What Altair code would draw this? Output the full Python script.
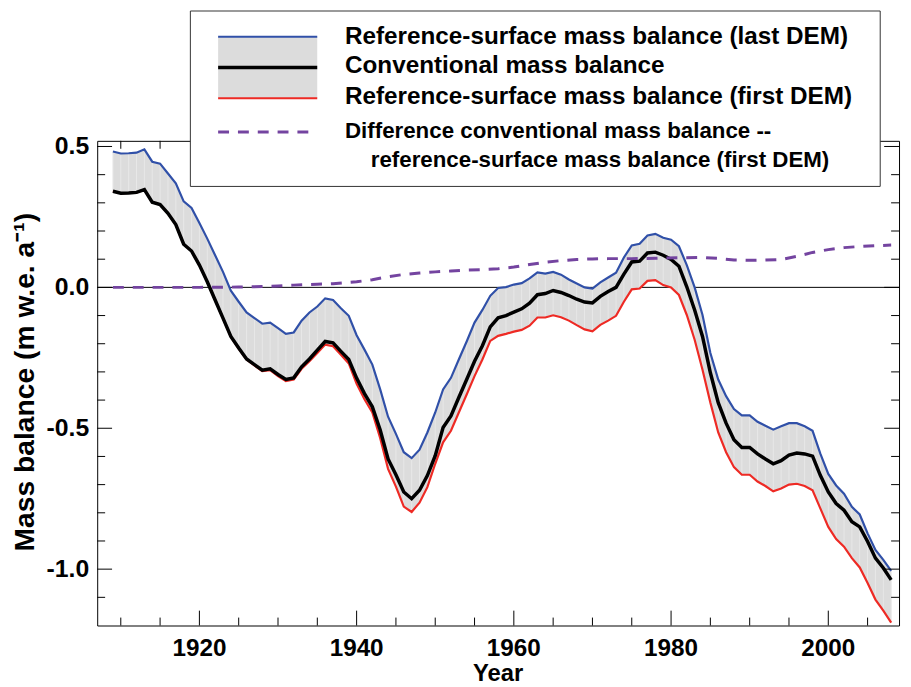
import altair as alt
import pandas as pd

# ---------------- data ----------------
years = list(range(1909, 2009))

ref_last = [0.482, 0.475, 0.476, 0.478, 0.490, 0.446, 0.439, 0.404, 0.369, 0.305,
            0.282, 0.228, 0.173, 0.114, 0.055, -0.012, -0.051, -0.089, -0.109, -0.129,
            -0.125, -0.145, -0.165, -0.160, -0.118, -0.089, -0.068, -0.039, -0.045, -0.074,
            -0.101, -0.170, -0.221, -0.274, -0.362, -0.459, -0.520, -0.585, -0.606, -0.576,
            -0.515, -0.444, -0.362, -0.321, -0.256, -0.192, -0.125, -0.080, -0.030, -0.002,
            0.001, 0.010, 0.015, 0.032, 0.053, 0.049, 0.055, 0.045, 0.028, 0.014,
            0.000, -0.004, 0.018, 0.035, 0.052, 0.106, 0.149, 0.155, 0.184, 0.190,
            0.176, 0.169, 0.146, 0.079, 0.000, -0.098, -0.233, -0.327, -0.386, -0.432,
            -0.454, -0.454, -0.477, -0.491, -0.505, -0.493, -0.482, -0.482, -0.493, -0.509,
            -0.591, -0.662, -0.703, -0.732, -0.779, -0.806, -0.873, -0.932, -0.967, -1.006]

conventional = [0.341, 0.334, 0.335, 0.337, 0.347, 0.302, 0.294, 0.263, 0.223, 0.153,
                0.129, 0.079, 0.020, -0.045, -0.109, -0.174, -0.215, -0.254, -0.274, -0.294,
                -0.289, -0.309, -0.327, -0.321, -0.282, -0.254, -0.223, -0.192, -0.197, -0.227,
                -0.256, -0.322, -0.377, -0.424, -0.506, -0.609, -0.665, -0.726, -0.750, -0.720,
                -0.668, -0.597, -0.497, -0.456, -0.391, -0.327, -0.262, -0.207, -0.140, -0.108,
                -0.100, -0.088, -0.076, -0.056, -0.026, -0.022, -0.011, -0.018, -0.029, -0.042,
                -0.052, -0.055, -0.032, -0.015, 0.000, 0.047, 0.090, 0.093, 0.122, 0.125,
                0.114, 0.099, 0.075, 0.002, -0.080, -0.174, -0.303, -0.409, -0.482, -0.541,
                -0.568, -0.568, -0.591, -0.609, -0.626, -0.615, -0.595, -0.588, -0.591, -0.599,
                -0.668, -0.726, -0.767, -0.791, -0.832, -0.850, -0.902, -0.961, -0.996, -1.038]

ref_first = [0.341, 0.334, 0.335, 0.337, 0.347, 0.302, 0.294, 0.263, 0.223, 0.153,
             0.129, 0.079, 0.020, -0.045, -0.110, -0.175, -0.217, -0.256, -0.277, -0.297,
             -0.294, -0.315, -0.333, -0.327, -0.289, -0.262, -0.233, -0.203, -0.209, -0.239,
             -0.270, -0.342, -0.397, -0.444, -0.535, -0.644, -0.707, -0.778, -0.797, -0.764,
             -0.709, -0.626, -0.550, -0.509, -0.444, -0.380, -0.315, -0.256, -0.190, -0.172,
             -0.165, -0.157, -0.151, -0.136, -0.107, -0.107, -0.099, -0.106, -0.118, -0.134,
             -0.149, -0.156, -0.133, -0.118, -0.101, -0.051, -0.007, -0.004, 0.023, 0.026,
             0.008, 0.000, -0.027, -0.098, -0.186, -0.292, -0.409, -0.515, -0.585, -0.638,
             -0.665, -0.665, -0.689, -0.705, -0.724, -0.714, -0.700, -0.697, -0.705, -0.720,
             -0.785, -0.850, -0.893, -0.920, -0.961, -0.994, -1.049, -1.108, -1.147, -1.190]

diff_years = [1909, 1915, 1920, 1925, 1928, 1930, 1932, 1935, 1937, 1940, 1942, 1944,
              1946, 1948, 1950, 1952, 1954, 1956, 1958, 1960, 1962, 1964, 1966, 1968,
              1970, 1972, 1975, 1978, 1981, 1984, 1986, 1988, 1990, 1992, 1994, 1996,
              1998, 2000, 2002, 2004, 2006, 2008]
diff_values = [0.000, 0.000, 0.000, 0.001, 0.003, 0.005, 0.008, 0.011, 0.013, 0.020, 0.027, 0.038,
               0.046, 0.051, 0.055, 0.058, 0.061, 0.063, 0.066, 0.072, 0.081, 0.089, 0.095, 0.099,
               0.101, 0.102, 0.102, 0.103, 0.105, 0.106, 0.103, 0.097, 0.096, 0.097, 0.099, 0.110,
               0.124, 0.134, 0.141, 0.145, 0.148, 0.150]

legend_labels = ["Reference-surface mass balance (last DEM)",
                 "Conventional mass balance",
                 "Reference-surface mass balance (first DEM)",
                 "Difference conventional mass balance --",
                 "reference-surface mass balance (first DEM)"]

y_major = [-1.0, -0.5, 0.0, 0.5]
y_minor = [-1.1, -0.9, -0.8, -0.7, -0.6, -0.4, -0.3, -0.2, -0.1, 0.1, 0.2, 0.3, 0.4]
x_major = [1920, 1940, 1960, 1980, 2000]
x_minor = [1910, 1915, 1925, 1930, 1935, 1945, 1950, 1955, 1965, 1970, 1975,
           1985, 1990, 1995, 2005]

x_title = "Year"
y_title = "Mass balance (m w.e. a\u207b\u00b9)"

# ---------------- styling ----------------
W, H = 809, 489
FONT = "Liberation Sans"
BLUE = "#3050a8"
RED = "#ee2a24"
PURPLE = "#7444a0"
BAND = "#dcdcdc"

df = pd.DataFrame({"year": years, "last": ref_last, "conv": conventional, "first": ref_first})
ddf = pd.DataFrame({"year": diff_years, "diff": diff_values})

xs = alt.Scale(domain=[1907, 2009], nice=False, zero=False)
ys = alt.Scale(domain=[-1.2, 0.52], nice=False, zero=False)

zero_line = alt.Chart(pd.DataFrame({"v": [0.0]})).mark_rule(color="black", strokeWidth=1).encode(
    y=alt.Y("v:Q", scale=ys, axis=None))

band = alt.Chart(df).mark_area(color=BAND, opacity=1).encode(
    x=alt.X("year:Q", scale=xs, axis=None),
    y=alt.Y("last:Q", scale=ys, axis=None),
    y2="first:Q")

stripes = alt.Chart(df).mark_rule(color="#e8e8e8", strokeWidth=1).encode(
    x=alt.X("year:Q", scale=xs, axis=None),
    y=alt.Y("last:Q", scale=ys, axis=None), y2="first:Q")

def series_line(field, color, width):
    return alt.Chart(df).mark_line(color=color, strokeWidth=width).encode(
        x=alt.X("year:Q", scale=xs, axis=None),
        y=alt.Y(f"{field}:Q", scale=ys, axis=None))

blue_line = series_line("last", BLUE, 2.2)
red_line = series_line("first", RED, 2.2)
black_line = series_line("conv", "black", 3.5)

diff_line = alt.Chart(ddf).mark_line(color=PURPLE, strokeWidth=3, strokeDash=[11, 9]).encode(
    x=alt.X("year:Q", scale=xs, axis=None),
    y=alt.Y("diff:Q", scale=ys, axis=None))

# tick marks (inward, on all four sides)
def yticks(vals, length):
    d = alt.Chart(pd.DataFrame({"v": vals}))
    left = d.mark_rule(color="black", strokeWidth=1).encode(
        y=alt.Y("v:Q", scale=ys, axis=None), x=alt.value(0), x2=alt.value(length))
    right = d.mark_rule(color="black", strokeWidth=1).encode(
        y=alt.Y("v:Q", scale=ys, axis=None), x=alt.value(W - length), x2=alt.value(W))
    return [left, right]

def xticks(vals, length):
    d = alt.Chart(pd.DataFrame({"t": vals}))
    bottom = d.mark_rule(color="black", strokeWidth=1).encode(
        x=alt.X("t:Q", scale=xs, axis=None), y=alt.value(H - length), y2=alt.value(H))
    top = d.mark_rule(color="black", strokeWidth=1).encode(
        x=alt.X("t:Q", scale=xs, axis=None), y=alt.value(0), y2=alt.value(length))
    return [bottom, top]

ticks = yticks(y_major, 15) + yticks(y_minor, 8) + xticks(x_major, 15) + xticks(x_minor, 8)

# tick labels and axis titles
ylab_df = pd.DataFrame({"v": y_major, "lab": [f"{v:.1f}" for v in y_major]})
y_labels = alt.Chart(ylab_df).mark_text(
    align="right", baseline="middle", font=FONT, fontSize=25, fontWeight="bold",
    color="black").encode(
    y=alt.Y("v:Q", scale=ys, axis=None), x=alt.value(-8), text="lab:N")

xlab_df = pd.DataFrame({"t": x_major, "lab": [str(t) for t in x_major]})
x_labels = alt.Chart(xlab_df).mark_text(
    align="center", baseline="alphabetic", font=FONT, fontSize=24.5, fontWeight="bold",
    color="black").encode(
    x=alt.X("t:Q", scale=xs, axis=None), y=alt.value(H + 31), text="lab:N")

one = pd.DataFrame({"a": [0]})
x_title_mark = alt.Chart(one).mark_text(
    text=x_title, align="center", baseline="alphabetic", font=FONT, fontSize=24,
    fontWeight="bold", color="black").encode(x=alt.value(W / 2), y=alt.value(H + 56))
y_title_mark = alt.Chart(one).mark_text(
    text=y_title, align="center", baseline="alphabetic", angle=270, font=FONT, fontSize=28.5,
    fontWeight="bold", color="black").encode(x=alt.value(-64), y=alt.value(243.5))

# ---------------- legend (drawn by hand) ----------------
leg_box = alt.Chart(one).mark_rect(fill="white", stroke="#333333", strokeWidth=1).encode(
    x=alt.value(94), x2=alt.value(790), y=alt.value(-131), y2=alt.value(46))
leg_band = alt.Chart(one).mark_rect(color=BAND).encode(
    x=alt.value(122), x2=alt.value(222), y=alt.value(-105), y2=alt.value(-43))
leg_blue = alt.Chart(one).mark_rule(color=BLUE, strokeWidth=2.2).encode(
    x=alt.value(122), x2=alt.value(222), y=alt.value(-105))
leg_black = alt.Chart(one).mark_rule(color="black", strokeWidth=3.5).encode(
    x=alt.value(122), x2=alt.value(222), y=alt.value(-74))
leg_red = alt.Chart(one).mark_rule(color=RED, strokeWidth=2.2).encode(
    x=alt.value(122), x2=alt.value(222), y=alt.value(-43))
leg_purple = alt.Chart(one).mark_rule(color=PURPLE, strokeWidth=3, strokeDash=[11, 9]).encode(
    x=alt.value(122), x2=alt.value(218), y=alt.value(-9))

text_pos = [(250, -105, 24.5), (250, -75, 24.5), (250, -44, 24.5), (250, -10, 22.5),
            (276, 19, 22.5)]
leg_texts = []
for label, (px, py, fs) in zip(legend_labels, text_pos):
    leg_texts.append(alt.Chart(one).mark_text(
        text=label, align="left", baseline="middle", font=FONT, fontSize=fs,
        fontWeight="bold", color="black").encode(x=alt.value(px), y=alt.value(py)))

layers = ([zero_line, band, stripes, blue_line, red_line, black_line, diff_line] + ticks +
          [y_labels, x_labels, x_title_mark, y_title_mark] +
          [leg_box, leg_band, leg_blue, leg_red, leg_black, leg_purple] + leg_texts)

chart = alt.layer(*layers).properties(
    width=W, height=H,
    padding={"left": 90, "top": 131, "right": 4, "bottom": 58},
    autosize=alt.AutoSizeParams(type="none"),
).configure_view(stroke="black", strokeWidth=1)

chart.save("out.html", embed_options={"renderer": "svg", "actions": False})
